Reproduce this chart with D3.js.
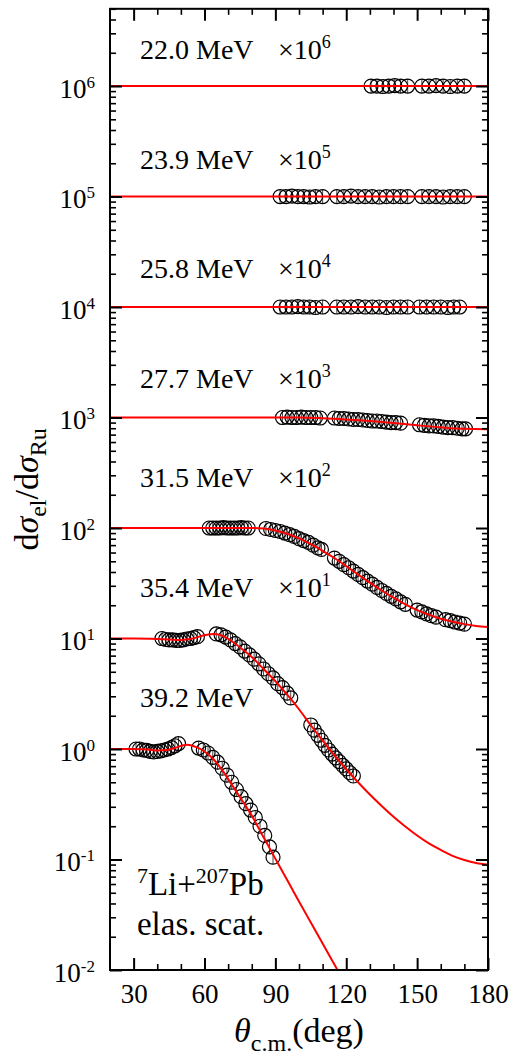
<!DOCTYPE html>
<html>
<head>
<meta charset="utf-8">
<script src="https://cdn.jsdelivr.net/npm/d3@7"></script>
<style>
  body { margin: 0; background: #fff; }
  text { font-family: "Liberation Serif", "Times New Roman", serif; fill: #000; }
</style>
</head>
<body>
<div class="chart"></div>
<script>
// ---- data (ratio to Rutherford, before the ×10^n offset) ----
const energies = ["22.0", "23.9", "25.8", "27.7", "31.5", "35.4", "39.2"];
const scalePowers = [6, 5, 4, 3, 2, 1, 0];
const thetaTicks = [30, 60, 90, 120, 150, 180];
const thetaMinor = [40, 50, 70, 80, 100, 110, 130, 140, 160, 170];
const decadeTicks = [-2, -1, 0, 1, 2, 3, 4, 5, 6];

const theta220 = [130.5, 133, 135.5, 138, 140.5, 143, 146, 152, 155, 158, 161, 164, 167, 170];
const ratio220 = [1.0, 1.0, 0.99, 1.0, 1.01, 1.0, 1.0, 1.0, 1.0, 1.01, 1.0, 0.99, 1.0, 1.0];

const theta239 = [92, 94.5, 97, 99.5, 102, 104.5, 107, 110, 116, 119, 122, 125, 128, 131, 134, 137, 140, 143, 146, 152, 155, 158, 161, 164, 167, 170];
const ratio239 = [1.0, 1.0, 1.01, 1.0, 1.0, 0.99, 1.0, 1.0, 1.0, 1.0, 1.01, 1.0, 1.0, 1.0, 0.99, 1.0, 1.0, 1.0, 1.0, 1.0, 1.0, 1.0, 0.99, 1.0, 1.0, 1.0];

const theta258 = [92, 94.5, 97, 99.5, 102, 104.5, 107, 110, 116, 119, 122, 125, 128, 131, 134, 137, 140, 143, 146, 151, 154, 157, 160, 163, 165.5, 168];
const ratio258 = [1.0, 1.0, 1.0, 1.01, 1.0, 1.0, 0.99, 1.0, 1.0, 1.0, 1.0, 1.01, 1.0, 1.0, 1.0, 0.99, 1.0, 1.0, 1.0, 1.0, 1.0, 1.0, 1.0, 0.99, 1.0, 1.0];

const theta277 = [93, 95, 97, 99, 101, 103, 105, 107, 109, 115, 117, 119, 121, 123, 125, 127, 129, 131, 133, 135, 137, 139, 141, 143, 151, 153, 155, 157, 159, 161, 163, 165, 167, 169, 170.5];
const ratio277 = [1.0, 1.01, 1.0, 1.0, 1.01, 1.0, 1.0, 1.0, 0.99, 0.99, 0.98, 0.98, 0.97, 0.96, 0.96, 0.95, 0.94, 0.93, 0.93, 0.92, 0.91, 0.9, 0.9, 0.89, 0.86, 0.85, 0.84, 0.84, 0.83, 0.82, 0.81, 0.81, 0.8, 0.79, 0.79];

const theta315 = [62, 63.5, 65, 66.5, 68, 69.5, 71, 72.5, 74, 75.5, 77, 78.5, 86, 88, 90, 92, 94, 96, 98, 100, 102, 104, 106, 108, 109.5, 115, 117, 119, 121, 123, 125, 127, 129, 131, 133, 135, 137, 139, 141, 143, 145, 150, 152, 154, 156, 158, 162, 164, 166, 168, 170];
const ratio315 = [1.0, 1.0, 1.0, 1.0, 1.01, 1.0, 1.0, 1.0, 1.0, 1.01, 1.0, 1.0, 0.99, 0.97, 0.95, 0.93, 0.9, 0.87, 0.84, 0.8, 0.77, 0.74, 0.7, 0.66, 0.64, 0.535, 0.5, 0.466, 0.437, 0.408, 0.38, 0.355, 0.331, 0.31, 0.29, 0.272, 0.256, 0.241, 0.228, 0.215, 0.204, 0.181, 0.174, 0.167, 0.161, 0.156, 0.148, 0.145, 0.141, 0.138, 0.135];

const theta354 = [42, 43.5, 45, 46.5, 48, 49.5, 51, 52.5, 54, 55.5, 57, 65, 67, 69, 71, 73, 75, 77, 79, 81, 83, 85, 87, 89, 91, 93, 95, 96.5, 105, 106.5, 108, 109.5, 111, 112.5, 114, 115.5, 117, 118.5, 120, 121.5, 123];
const ratio354 = [1.0, 0.98, 0.97, 0.97, 0.96, 0.96, 0.97, 0.99, 1.0, 1.02, 1.04, 1.1, 1.08, 1.03, 0.97, 0.9, 0.84, 0.77, 0.71, 0.65, 0.59, 0.53, 0.48, 0.44, 0.39, 0.36, 0.32, 0.29, 0.165, 0.148, 0.133, 0.12, 0.108, 0.098, 0.09, 0.083, 0.077, 0.071, 0.066, 0.061, 0.057];

const theta392 = [31, 32.5, 34, 35.5, 37, 38.5, 40, 41.5, 43, 44.5, 46, 47.5, 49, 57.5, 59.5, 61.5, 63.5, 65.5, 67.5, 69.5, 71.5, 73.5, 75.5, 77.5, 79.5, 81.5, 83.5, 85.5, 87.5, 89];
const ratio392 = [1.0, 1.0, 0.98, 0.97, 0.95, 0.94, 0.95, 0.96, 0.98, 1.0, 1.03, 1.07, 1.12, 1.02, 0.98, 0.92, 0.84, 0.76, 0.67, 0.58, 0.5, 0.43, 0.37, 0.32, 0.28, 0.24, 0.2, 0.165, 0.13, 0.105];

// optical-model fits
const fitThetaFlat = [20, 180];
const fitRatioFlat = [1, 1];
const fitTheta277 = [20, 60, 100, 110, 120, 130, 140, 150, 160, 170, 180];
const fitRatio277 = [1, 1, 1.0, 0.985, 0.96, 0.93, 0.89, 0.85, 0.815, 0.79, 0.785];
const fitTheta315 = [20, 60, 80, 85, 90, 95, 100, 105, 110, 115, 120, 125, 130, 135, 140, 145, 150, 155, 160, 165, 170, 175, 180];
const fitRatio315 = [1, 1, 1, 0.989, 0.95, 0.887, 0.805, 0.715, 0.622, 0.535, 0.452, 0.38, 0.32, 0.272, 0.234, 0.204, 0.181, 0.164, 0.151, 0.142, 0.135, 0.13, 0.127];
const fitTheta354 = [20, 30, 40, 45, 50, 55, 60, 64, 68, 72, 76, 80, 85, 90, 95, 100, 105, 110, 115, 120, 125, 130, 135, 140, 145, 150, 155, 160, 165, 170, 175, 180];
const fitRatio354 = [1, 1, 0.99, 0.98, 0.97, 1.0, 1.07, 1.1, 1.05, 0.93, 0.8, 0.68, 0.53, 0.41, 0.31, 0.229, 0.164, 0.119, 0.0875, 0.0656, 0.05, 0.0387, 0.0305, 0.0244, 0.0199, 0.0165, 0.014, 0.0122, 0.0108, 0.0099, 0.0093, 0.009];
const fitTheta392 = [20, 30, 36, 40, 44, 48, 51, 53, 56, 60, 64, 68, 72, 76, 80, 84, 88, 92, 96, 100, 105, 110, 115, 120];
const fitRatio392 = [1, 1, 0.99, 0.97, 0.98, 1.03, 1.08, 1.09, 1.05, 0.95, 0.8, 0.62, 0.46, 0.34, 0.25, 0.174, 0.1216, 0.085, 0.0596, 0.0417, 0.0269, 0.0174, 0.0112, 0.0072];

// where the energy labels sit (theta, plotted value)
const labelTheta = 32.7;
const multTheta = 91.1;
const labelValue = [1.75e6, 1.79e5, 1.82e4, 1.85e3, 235, 23.8, 2.4];
const noteTheta = 31.4;
const noteValue = [0.048, 0.0207];

const series = [
  { theta: theta220, ratio: ratio220, fitTheta: fitThetaFlat, fitRatio: fitRatioFlat },
  { theta: theta239, ratio: ratio239, fitTheta: fitThetaFlat, fitRatio: fitRatioFlat },
  { theta: theta258, ratio: ratio258, fitTheta: fitThetaFlat, fitRatio: fitRatioFlat },
  { theta: theta277, ratio: ratio277, fitTheta: fitTheta277, fitRatio: fitRatio277 },
  { theta: theta315, ratio: ratio315, fitTheta: fitTheta315, fitRatio: fitRatio315 },
  { theta: theta354, ratio: ratio354, fitTheta: fitTheta354, fitRatio: fitRatio354 },
  { theta: theta392, ratio: ratio392, fitTheta: fitTheta392, fitRatio: fitRatio392 }
].map((s, i) => ({ ...s, energy: energies[i], power: scalePowers[i], factor: Math.pow(10, scalePowers[i]) }));

// ---- layout ----
const width = 510, height = 1056;
const plot = { left: 110, right: 488, top: 8.8, bottom: 970 };

const svg = d3.select(".chart")
  .append("svg")
  .attr("width", width)
  .attr("height", height);

const xScale = d3.scaleLinear().domain([20, 180]).range([plot.left, plot.right]);
const yScale = d3.scaleLog().domain([1e-2, 5e6]).range([plot.bottom, plot.top]);

svg.append("clipPath").attr("id", "clip")
  .append("rect")
  .attr("x", plot.left).attr("y", plot.top)
  .attr("width", plot.right - plot.left).attr("height", plot.bottom - plot.top);

// data points
const r = 7;
const pts = svg.append("g").attr("clip-path", "url(#clip)");
series.forEach(s => {
  const d = s.theta.map((t, j) => ({ t: t, v: s.ratio[j] * s.factor }));
  const g = pts.append("g");
  g.selectAll("line")
    .data(d)
    .join("line")
    .attr("x1", p => xScale(p.t)).attr("x2", p => xScale(p.t))
    .attr("y1", p => yScale(p.v) - r).attr("y2", p => yScale(p.v) + r)
    .attr("stroke", "#333").attr("stroke-width", 0.9);
  g.selectAll("circle")
    .data(d)
    .join("circle")
    .attr("cx", p => xScale(p.t))
    .attr("cy", p => yScale(p.v))
    .attr("r", r)
    .attr("fill", "none")
    .attr("stroke", "#000")
    .attr("stroke-width", 1.2);
});

// fit curves
const line = d3.line()
  .x(p => xScale(p.t))
  .y(p => yScale(p.v))
  .curve(d3.curveMonotoneX);

svg.append("g").attr("clip-path", "url(#clip)")
  .selectAll("path")
  .data(series)
  .join("path")
  .attr("d", s => line(s.fitTheta.map((t, j) => ({ t: t, v: s.fitRatio[j] * s.factor }))))
  .attr("fill", "none")
  .attr("stroke", "#ff0000")
  .attr("stroke-width", 2);

// ---- axes ----
const majorY = decadeTicks.map(k => Math.pow(10, k));
const minorY = [];
decadeTicks.forEach(k => {
  for (let m = 2; m <= 9; m++) {
    const v = m * Math.pow(10, k);
    if (v <= 5e6) minorY.push(v);
  }
});

function styleAxis(g) {
  g.select(".domain").remove();
  g.selectAll(".tick line").attr("stroke", "#000");
}

svg.append("g").attr("transform", `translate(${plot.left},0)`)
  .call(d3.axisLeft(yScale).tickValues(minorY).tickSize(-6).tickFormat(""))
  .call(styleAxis).selectAll(".tick line").attr("stroke-width", 1.6);
svg.append("g").attr("transform", `translate(${plot.right},0)`)
  .call(d3.axisRight(yScale).tickValues(minorY).tickSize(-6).tickFormat(""))
  .call(styleAxis).selectAll(".tick line").attr("stroke-width", 1.6);

const yLeft = svg.append("g").attr("transform", `translate(${plot.left},0)`)
  .call(d3.axisLeft(yScale).tickValues(majorY).tickSize(-12).tickFormat(""))
  .call(styleAxis);
yLeft.selectAll(".tick line").attr("stroke-width", 2);
svg.append("g").attr("transform", `translate(${plot.right},0)`)
  .call(d3.axisRight(yScale).tickValues(majorY).tickSize(-12).tickFormat(""))
  .call(styleAxis).selectAll(".tick line").attr("stroke-width", 2);

// y tick labels as 10^k
yLeft.selectAll(".tick text").remove();
yLeft.selectAll(".tick").each(function(v) {
  const k = Math.round(Math.log10(v));
  const t = d3.select(this).append("text")
    .attr("x", -15).attr("y", 11)
    .attr("text-anchor", "end")
    .attr("font-size", 27)
    .attr("fill", "#000");
  t.append("tspan").text("10");
  t.append("tspan").attr("dy", -10).attr("font-size", 17).text(k);
});

const xBottom = svg.append("g").attr("transform", `translate(0,${plot.bottom})`)
  .call(d3.axisBottom(xScale).tickValues(thetaTicks).tickSize(-12).tickPadding(14).tickFormat(d3.format("d")))
  .call(styleAxis);
xBottom.selectAll(".tick line").attr("stroke-width", 2);
xBottom.selectAll(".tick text").attr("font-size", 27).attr("fill", "#000")
  .attr("font-family", "Liberation Serif, Times New Roman, serif");

svg.append("g").attr("transform", `translate(0,${plot.bottom})`)
  .call(d3.axisBottom(xScale).tickValues(thetaMinor).tickSize(-6).tickFormat(""))
  .call(styleAxis).selectAll(".tick line").attr("stroke-width", 1.6);
svg.append("g").attr("transform", `translate(0,${plot.top})`)
  .call(d3.axisTop(xScale).tickValues(thetaTicks).tickSize(-12).tickFormat(""))
  .call(styleAxis).selectAll(".tick line").attr("stroke-width", 2);
svg.append("g").attr("transform", `translate(0,${plot.top})`)
  .call(d3.axisTop(xScale).tickValues(thetaMinor).tickSize(-6).tickFormat(""))
  .call(styleAxis).selectAll(".tick line").attr("stroke-width", 1.6);

// frame
svg.append("rect")
  .attr("x", plot.left).attr("y", plot.top)
  .attr("width", plot.right - plot.left).attr("height", plot.bottom - plot.top)
  .attr("fill", "none").attr("stroke", "#000").attr("stroke-width", 2);

// ---- labels ----
series.forEach((s, i) => {
  svg.append("text")
    .attr("x", xScale(labelTheta)).attr("y", yScale(labelValue[i]))
    .attr("font-size", 28)
    .text(`${s.energy} MeV`);
  if (s.power > 0) {
    const m = svg.append("text")
      .attr("x", xScale(multTheta)).attr("y", yScale(labelValue[i]))
      .attr("font-size", 28);
    m.append("tspan").text("\u00d710");
    m.append("tspan").attr("dy", -11).attr("font-size", 18).text(s.power);
  }
});

const note = svg.append("text")
  .attr("x", xScale(noteTheta)).attr("y", yScale(noteValue[0]))
  .attr("font-size", 33);
note.append("tspan").attr("dy", -12).attr("font-size", 22).text("7");
note.append("tspan").attr("dy", 12).text("Li+");
note.append("tspan").attr("dy", -12).attr("font-size", 22).text("207");
note.append("tspan").attr("dy", 12).text("Pb");

svg.append("text")
  .attr("x", xScale(noteTheta)).attr("y", yScale(noteValue[1]))
  .attr("font-size", 33)
  .text("elas. scat.");

// axis titles
const xt = svg.append("text")
  .attr("x", (plot.left + plot.right) / 2).attr("y", 1042)
  .attr("text-anchor", "middle")
  .attr("font-size", 34);
xt.append("tspan").attr("font-style", "italic").text("\u03b8");
xt.append("tspan").attr("dy", 9).attr("font-size", 24).text("c.m.");
xt.append("tspan").attr("dy", -9).text("(deg)");

const yt = svg.append("text")
  .attr("transform", `translate(38,${(plot.top + plot.bottom) / 2}) rotate(-90)`)
  .attr("text-anchor", "middle")
  .attr("font-size", 34);
yt.append("tspan").text("d");
yt.append("tspan").attr("font-style", "italic").text("\u03c3");
yt.append("tspan").attr("dy", 8).attr("font-size", 24).text("el");
yt.append("tspan").attr("dy", -8).text("/d");
yt.append("tspan").attr("font-style", "italic").text("\u03c3");
yt.append("tspan").attr("dy", 8).attr("font-size", 24).text("Ru");
</script>
</body>
</html>
